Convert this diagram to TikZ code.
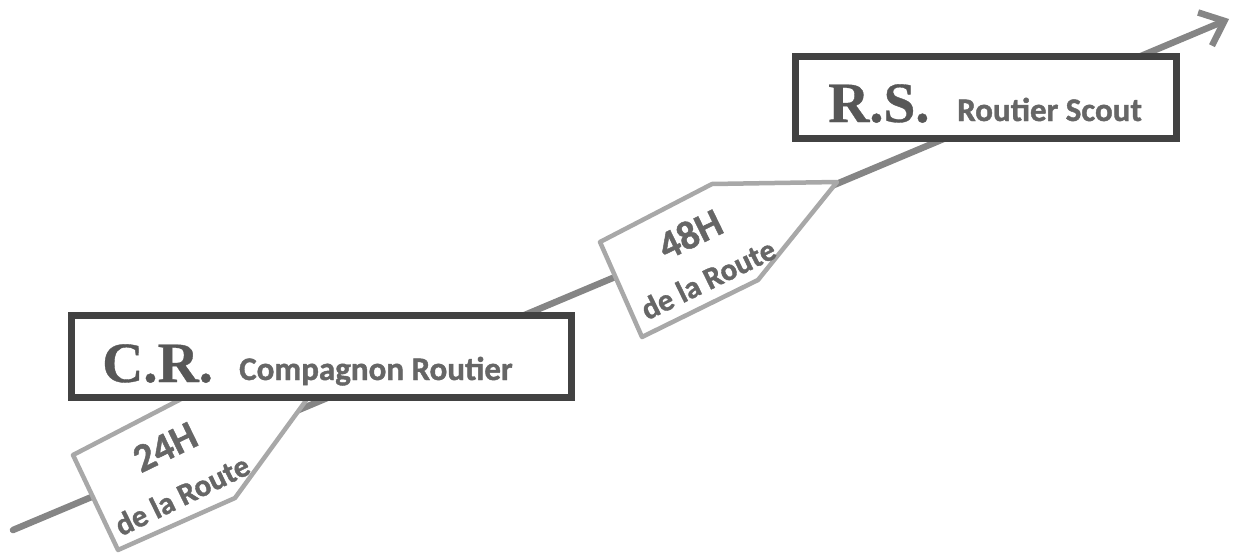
\documentclass[tikz,border=0pt]{standalone}
\usepackage{fontspec}
\setmainfont{Liberation Serif}[BoldFeatures={FakeBold=0.6}]
\newfontfamily\tagfont{Carlito}[BoldFeatures={FakeBold=1.2}]
\usetikzlibrary{arrows.meta}
\definecolor{roadgray}{HTML}{858585}
\definecolor{taggray}{HTML}{A8A8A8}
\definecolor{boxgray}{HTML}{424242}
\definecolor{serifgray}{HTML}{575757}
\definecolor{sansgray}{HTML}{666666}
\tikzset{
  road/.style={draw=roadgray, line width=6.5pt, line cap=round,
    -{Straight Barb[length=21pt, width=36pt, line width=6.5pt]}},
  tagshape/.style={draw=taggray, fill=white, line width=4.5pt, line join=round},
  rankbox/.style={draw=boxgray, fill=white, line width=7pt, rectangle,
    inner sep=0pt, minimum height=82pt},
  abbr/.style={anchor=base west, inner sep=0pt, text=serifgray,
    font=\fontsize{57}{60}\selectfont\bfseries},
  fullname/.style={anchor=base west, inner sep=0pt, text=sansgray,
    font=\tagfont\fontsize{33}{36}\selectfont\bfseries},
  hours/.style={inner sep=0pt, text=sansgray, rotate=26,
    font=\tagfont\fontsize{40}{42}\selectfont\bfseries},
  tagtext/.style={inner sep=0pt, text=sansgray, rotate=26,
    font=\tagfont\fontsize{31}{33}\selectfont\bfseries},
}
\begin{document}
\begin{tikzpicture}[x=1pt, y=-1pt]
\useasboundingbox (0,0) rectangle (1234,557);
% main road arrow
\coordinate (start) at (13,530);
\coordinate (end) at (1229,19);
\draw[road] (start) -- (end);
% 24H tag
\draw[tagshape] (73,455) -- (185,397) -- (310,395) -- (235,498) -- (118,550) -- cycle;
\node[hours] (h24) at (165,447) {24H};
\node[tagtext] (r24) at (182,495) {de la Route};
% 48H tag
\draw[tagshape] (600,242) -- (712,184) -- (837,182) -- (758,280) -- (642,337) -- cycle;
\node[hours] (h48) at (690,234) {48H};
\node[tagtext] (r48) at (708,279) {de la Route};
% C.R. box
\node[rankbox, minimum width=500pt] (cr) at (321.5,356.5) {};
\node[abbr] (cra) at (102,382) {C.R.};
\node[fullname] (crn) at (239,380) {Compagnon Routier};
% R.S. box
\node[rankbox, minimum width=381pt] (rs) at (986,97.5) {};
\node[abbr] (rsa) at (828,122) {R.S.};
\node[fullname] (rsn) at (957,121) {Routier Scout};
\end{tikzpicture}
\end{document}
